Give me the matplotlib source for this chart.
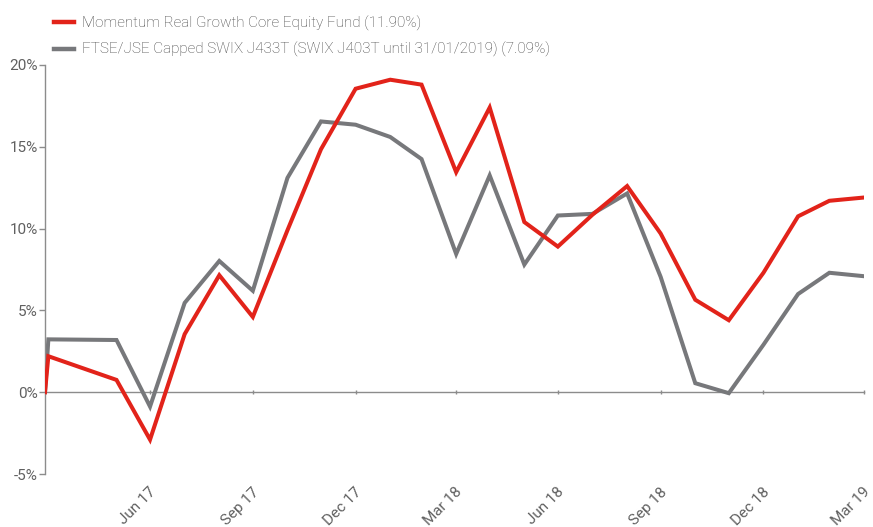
import matplotlib
matplotlib.use("Agg")
import matplotlib.pyplot as plt
import matplotlib.transforms as mtransforms
import pandas as pd

plt.rcParams['font.family'] = ['Roboto', 'DejaVu Sans']
plt.rcParams['font.weight'] = 'light'

dates = ["2017-03-28", "2017-03-31", "2017-05-31", "2017-06-30", "2017-07-31", "2017-08-31",
         "2017-09-30", "2017-10-31", "2017-11-30", "2017-12-31", "2018-01-31", "2018-02-28",
         "2018-03-31", "2018-04-30", "2018-05-31", "2018-06-30", "2018-07-31", "2018-08-31",
         "2018-09-30", "2018-10-31", "2018-11-30", "2018-12-31", "2019-01-31", "2019-02-28",
         "2019-03-31"]
fund = [0.0, 2.2, 0.75, -2.9, 3.55, 7.15, 4.6, 9.9, 14.85, 18.55, 19.1, 18.8,
        13.45, 17.4, 10.4, 8.9, 10.85, 12.6, 9.7, 5.65, 4.4, 7.3, 10.75, 11.7, 11.9]
bench = [0.0, 3.23, 3.19, -0.88, 5.46, 8.02, 6.2, 13.1, 16.55, 16.35, 15.6, 14.25,
         8.45, 13.25, 7.8, 10.8, 10.9, 12.15, 7.05, 0.55, -0.06, 2.9, 6.0, 7.3, 7.09]
fund_label = "Momentum Real Growth Core Equity Fund (11.90%)"
bench_label = "FTSE/JSE Capped SWIX J433T (SWIX J403T until 31/01/2019) (7.09%)"
tick_dates = ["2017-06-30", "2017-09-30", "2017-12-31", "2018-03-31", "2018-06-30",
              "2018-09-30", "2018-12-31", "2019-03-31"]
tick_labels = ["Jun 17", "Sep 17", "Dec 17", "Mar 18", "Jun 18", "Sep 18", "Dec 18", "Mar 19"]
y_ticks = [-5, 0, 5, 10, 15, 20]

x = pd.to_datetime(dates)
xt = pd.to_datetime(tick_dates)

RED = "#E2231A"
GREY = "#77787B"
AX = "#8C8C8C"
TXT = "#606060"

fig = plt.figure(figsize=(8.73, 5.27), dpi=100)
ax = fig.add_axes([45/873, 1-474/527, (864-45)/873, (474-65)/527])

ax.plot(x, fund, color=RED, lw=2.9, solid_joinstyle='miter', label=fund_label, zorder=3)
ax.plot(x, bench, color=GREY, lw=2.9, solid_joinstyle='miter', label=bench_label, zorder=2)

ax.set_xlim(x[0], xt[-1])
ax.set_ylim(-5, 20)
ax.set_yticks(y_ticks)
ax.set_yticklabels([f"{v}%" for v in y_ticks])

for s in ['top', 'right', 'bottom']:
    ax.spines[s].set_visible(False)
ax.spines['left'].set_color(AX)
ax.spines['left'].set_linewidth(1.0)
ax.tick_params(axis='y', length=4, width=1, color=AX, labelcolor=TXT, labelsize=11, pad=1)

ax.set_xticks(xt)
ax.set_xticklabels(tick_labels, rotation=45, ha='right', va='top')
ax.tick_params(axis='x', length=0, labelcolor=TXT, labelsize=11, pad=8)
offset = mtransforms.ScaledTranslation(9/100, 0, fig.dpi_scale_trans)
for lab in ax.get_xticklabels():
    lab.set_transform(lab.get_transform() + offset)
    lab.set_fontweight('normal')
for lab in ax.get_yticklabels():
    lab.set_fontweight('normal')

sec = ax.secondary_xaxis(0.2)
sec.set_xticks(xt)
sec.set_xticklabels([])
sec.spines['bottom'].set_color(AX)
sec.spines['bottom'].set_linewidth(1.0)
sec.tick_params(axis='x', length=3, width=1, color=AX, direction='inout')

leg = fig.legend(loc='upper left', bbox_to_anchor=(54/873, 1-16/527), frameon=False,
                 fontsize=11, handlelength=1.3, handletextpad=0.55, labelspacing=0.72,
                 labelcolor="#444444", borderaxespad=0, borderpad=0)
for h in leg.legend_handles:
    h.set_linewidth(3.2)

fig.savefig("out.png", dpi=100)
